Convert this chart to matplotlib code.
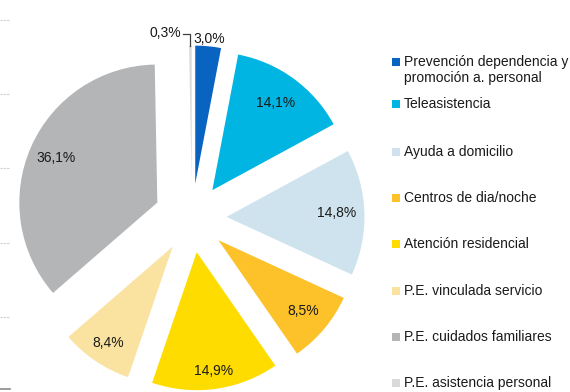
import numpy as np
import matplotlib
matplotlib.use("Agg")
import matplotlib.pyplot as plt
from matplotlib.patches import Rectangle
from matplotlib.lines import Line2D

plt.rcParams['font.family'] = ['Liberation Sans', 'DejaVu Sans']

categories = [
    "Prevención dependencia y\npromoción a. personal",
    "Teleasistencia",
    "Ayuda a domicilio",
    "Centros de dia/noche",
    "Atención residencial",
    "P.E. vinculada servicio",
    "P.E. cuidados familiares",
    "P.E. asistencia personal",
]
values = [3.0, 14.1, 14.8, 8.5, 14.9, 8.4, 36.1, 0.3]
colors = ["#0863C1", "#00B5E2", "#CFE3EE", "#FDC12A", "#FFDC00",
          "#FAE3A1", "#B4B5B7", "#DADADA"]
explode = [0.25, 0.25, 0.25, 0.25, 0.25, 0.25, 0.275, 0.25]
label_dist = [1.05, 0.78, 0.80, 0.80, 0.87, 0.84, 0.80, None]

W, H, DPI = 570, 392, 100
fig = plt.figure(figsize=(W / DPI, H / DPI), dpi=DPI)
fig.patch.set_facecolor("white")

# pie axes: 1 data unit = R pixels in both directions
R = 138.0
cx, cy = 192.0, 218.0  # pie centre in pixels (from top-left)
ax = fig.add_axes([0, 0, 1, 1])
ax.set_xlim(-cx / R, (W - cx) / R)
ax.set_ylim(-(H - cy) / R, cy / R)
ax.set_aspect("auto")
ax.axis("off")

wedges, _ = ax.pie(values, colors=colors, explode=explode, startangle=90,
                   counterclock=False, radius=1.0, center=(0, 0),
                   wedgeprops=dict(linewidth=0), frame=True)
ax.set_xlim(-cx / R, (W - cx) / R)
ax.set_ylim(-(H - cy) / R, cy / R)
ax.axis("off")

def fmt(v):
    return f"{v:.1f}".replace(".", ",") + "%"

for w, v, ex, d in zip(wedges, values, explode, label_dist):
    th = np.deg2rad((w.theta1 + w.theta2) / 2)
    ox, oy = ex * np.cos(th), ex * np.sin(th)
    if d is not None:
        ax.text(ox + d * np.cos(th), oy + d * np.sin(th), fmt(v),
                ha="center", va="center", fontsize=10, color="#1a1a1a")
    else:
        # leader line for the thinnest slice
        tx, ty = ox + np.cos(th), oy + np.sin(th)
        ex_y = ty + 0.085
        ax.add_line(Line2D([tx, tx, tx - 0.05], [ty, ex_y, ex_y],
                           color="#404040", lw=0.9))
        ax.text(tx - 0.065, ex_y + 0.005, fmt(v), ha="right", va="center",
                fontsize=10, color="#1a1a1a")

# legend drawn as squares and text on the right
leg_y = [62, 104, 152, 198, 244, 291, 337, 383]
for lab, col, y in zip(categories, colors, leg_y):
    fig.patches.append(Rectangle(((392) / W, 1 - (y + 4) / H), 8 / W, 8 / H,
                                 transform=fig.transFigure, color=col,
                                 linewidth=0))
    fig.text(404 / W, 1 - (y - 7) / H, lab, ha="left", va="top",
             fontsize=10, color="#1a1a1a", linespacing=1.2)

# faint gridline stubs on the left edge
for y in [20, 94, 168, 243, 317]:
    fig.lines.append(Line2D([0, 10 / W], [1 - y / H, 1 - y / H],
                            transform=fig.transFigure, color="#cfcfcf",
                            lw=0.8, linestyle=(0, (2, 1))))
fig.lines.append(Line2D([0, 10 / W], [1 - 389 / H, 1 - 389 / H],
                        transform=fig.transFigure, color="#8a8a8a", lw=1.2))

fig.savefig("out.png", dpi=DPI, facecolor="white")
